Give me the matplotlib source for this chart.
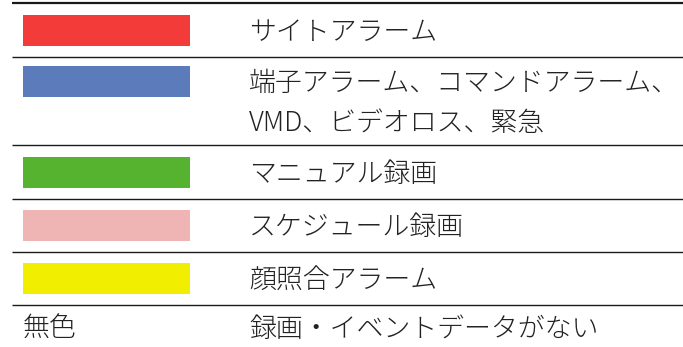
import matplotlib.pyplot as plt
from matplotlib.patches import Rectangle

plt.rcParams['font.family'] = ['Noto Sans CJK JP', 'DejaVu Sans']

# legend rows: swatch colour (None = no colour) and description
swatch_colors = ['#F33B3A', '#5C7BBB', '#56B330', '#EFB5B5', '#F2EE00', None]
swatch_labels = ['', '', '', '', '', '無色']
descriptions = [
    'サイトアラーム',
    '端子アラーム、コマンドアラーム、\nVMD、ビデオロス、緊急',
    'マニュアル録画',
    'スケジュール録画',
    '顔照合アラーム',
    '録画・イベントデータがない',
]

# row borders (pixels from top); last one is below the picture edge
row_edges = [3, 57, 145, 199, 252, 305, 350]

W, H = 683, 347
fig = plt.figure(figsize=(W / 100, H / 100), dpi=100)
ax = fig.add_axes([0, 0, 1, 1])
ax.set_xlim(0, W)
ax.set_ylim(H, 0)
ax.axis('off')

FS = 19.4
LINE_H = 40
TXT = '#222222'

for i, (col, lab, desc) in enumerate(zip(swatch_colors, swatch_labels, descriptions)):
    top, bot = row_edges[i], row_edges[i + 1]
    lines = desc.split('\n')
    first_y = (top + bot) / 2 - (len(lines) - 1) * LINE_H / 2
    if col is not None:
        ax.add_patch(Rectangle((23, first_y - 15.5), 167, 31, color=col, lw=0))
    else:
        ax.text(23, first_y + 1.5, lab, fontsize=FS, color=TXT, va='center',
                ha='left', fontweight='light')
    for k, line in enumerate(lines):
        ax.text(249, first_y + 1.5 + k * LINE_H, line, fontsize=FS, color=TXT,
                va='center', ha='left', fontweight='light')

for y in row_edges[:-1]:
    ax.plot([12, W], [y, y], color='#1a1a1a', lw=1.0 if y > 5 else 1.6,
            solid_capstyle='butt')

fig.savefig('out.png', dpi=100)
